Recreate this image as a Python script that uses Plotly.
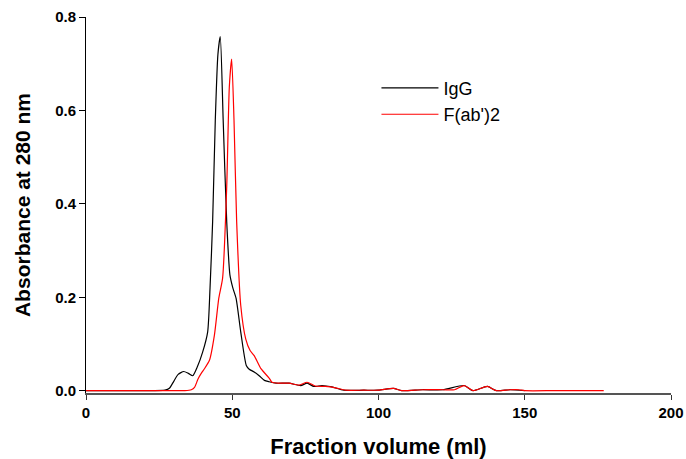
import plotly.graph_objects as go

# IgG trace (fraction volume in ml, absorbance)
igg_x = [0, 10, 20, 27, 28.5, 30, 31.5, 33.4, 35, 36.5, 38, 39.9, 41.6, 42.4, 43.3, 44.2, 45.1,
         45.9, 46.9, 48.1, 49.2, 50.2, 51.3, 52.9, 54.8, 55.8, 57.5, 59.2, 61, 62.6, 65, 69.4,
         73.4, 75.6, 77.9, 80.7, 84.1, 88.1, 95, 100, 105.1, 107.9, 115, 122, 129.3, 132.3,
         137.2, 140.3, 145, 150]
igg_y = [0, 0, 0, 0.001, 0.005, 0.02, 0.035, 0.041, 0.037, 0.032, 0.05, 0.083, 0.126, 0.219,
         0.363, 0.579, 0.72, 0.758, 0.579, 0.363, 0.248, 0.22, 0.198, 0.126, 0.054, 0.046, 0.04,
         0.032, 0.022, 0.019, 0.016, 0.016, 0.011, 0.016, 0.009, 0.011, 0.008, 0.001, 0.001,
         0.001, 0.005, 0.0, 0.002, 0.002, 0.011, 0.0, 0.009, 0.0, 0.002, 0.0]

# F(ab')2 trace
fab_x = [0, 10, 20, 30, 33.8, 36, 37.1, 38.3, 39.5, 40.5, 42.2, 43.9, 45.4, 46.7, 48.1, 49,
         49.8, 50.6, 51.5, 52.9, 54.6, 56.1, 57.5, 59.8, 62.6, 63.6, 66, 69.4, 72.8, 75.6, 78.4,
         81.8, 85.3, 88.7, 95, 100, 105.1, 107.9, 115, 122, 126, 129.3, 132.3, 137.2, 140.3,
         145, 148, 150, 160, 170, 177]
fab_y = [0, 0, 0, 0, 0, 0.002, 0.007, 0.025, 0.038, 0.047, 0.065, 0.119, 0.198, 0.241, 0.435,
         0.65, 0.71, 0.579, 0.363, 0.183, 0.111, 0.086, 0.075, 0.047, 0.027, 0.018, 0.016,
         0.016, 0.012, 0.018, 0.010, 0.009, 0.006, 0.001, 0.001, 0.001, 0.005, 0.0, 0.002,
         0.002, 0.002, 0.011, 0.0, 0.009, 0.0, 0.002, 0.002, 0.0, 0, 0, 0]

x_ticks = [0, 50, 100, 150, 200]
y_ticks = [0.0, 0.2, 0.4, 0.6, 0.8]
y_tick_text = ["0.0", "0.2", "0.4", "0.6", "0.8"]

FONT = "Arial, Liberation Sans, sans-serif"

fig = go.Figure()
fig.add_trace(go.Scatter(x=igg_x, y=igg_y, mode="lines", name="IgG",
                         line=dict(color="black", width=1.2, shape="spline", smoothing=0.6)))
fig.add_trace(go.Scatter(x=fab_x, y=fab_y, mode="lines", name="F(ab')2",
                         line=dict(color="#ff0000", width=1.2, shape="spline", smoothing=0.6)))

fig.update_layout(
    width=686, height=459,
    margin=dict(l=86, r=15, t=17, b=66, autoexpand=False),
    plot_bgcolor="white", paper_bgcolor="white",
    font=dict(family=FONT, color="black"),
    showlegend=True,
    legend=dict(x=0.4965, y=0.86, xanchor="left", yanchor="top",
                font=dict(size=18, family=FONT),
                bgcolor="rgba(0,0,0,0)", itemwidth=57, tracegroupgap=0),
    xaxis=dict(range=[0, 200], tickvals=x_ticks, showgrid=False, zeroline=False,
               showline=True, linecolor="#555555", linewidth=2, ticks="outside",
               ticklen=5, tickcolor="#333333", tickwidth=1, ticklabeloverflow="allow",
               automargin=False,
               tickfont=dict(size=15, family=FONT, weight="bold"),
               title=dict(text="<b>Fraction volume (ml)</b>", font=dict(size=22), standoff=22)),
    yaxis=dict(range=[-0.005, 0.8], tickvals=y_ticks, ticktext=y_tick_text, showgrid=False,
               zeroline=False, showline=True, linecolor="black", linewidth=1, ticks="outside",
               ticklen=6, tickcolor="black", automargin=False,
               tickfont=dict(size=15, family=FONT, weight="bold"),
               title=dict(text="<b>Absorbance at 280 nm</b>", font=dict(size=21), standoff=18)),
)

fig.write_html("out.html")
